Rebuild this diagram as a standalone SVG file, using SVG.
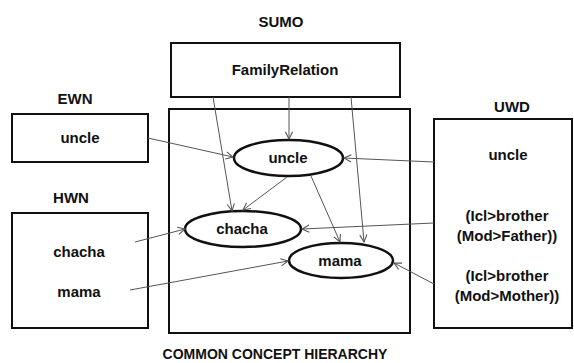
<svg xmlns="http://www.w3.org/2000/svg" width="574" height="363" viewBox="0 0 574 363">
<defs>
<style>
text{font-family:"Liberation Sans",Arial,sans-serif;font-weight:bold;font-size:15px;fill:#111;text-anchor:middle}
.box{fill:#fff;stroke:#111;stroke-width:2}
.ell{fill:#fff;stroke:#111;stroke-width:2.5}
.edge{fill:none;stroke:#555;stroke-width:1;marker-end:url(#arr)}
</style>
<marker id="arr" viewBox="0 0 10 10" refX="9" refY="5" markerWidth="9" markerHeight="9" markerUnits="userSpaceOnUse" orient="auto">
<path d="M1,1 L9,5 L1,9" fill="none" stroke="#555" stroke-width="1.2"/>
</marker>
</defs>
<rect width="574" height="363" fill="#fff"/>
<g id="common">
<rect class="box" x="169" y="109" width="241" height="224"/>
<text x="275" y="359" style="font-size:14px">COMMON CONCEPT HIERARCHY</text>
</g>
<g id="sumo">
<text x="281" y="27">SUMO</text>
<rect class="box" x="171" y="43" width="229" height="54"/>
<text x="285" y="75">FamilyRelation</text>
</g>
<g id="ewn">
<text x="75" y="104">EWN</text>
<rect class="box" x="12" y="114" width="136" height="48"/>
<text x="80" y="143">uncle</text>
</g>
<g id="hwn">
<text x="71" y="203">HWN</text>
<rect class="box" x="12" y="213" width="136" height="115"/>
<text x="79" y="257">chacha</text>
<text x="79" y="297">mama</text>
</g>
<g id="uwd">
<text x="512" y="112">UWD</text>
<rect class="box" x="434" y="119" width="138" height="209"/>
<text x="508" y="160">uncle</text>
<text x="507" y="221">(Icl&gt;brother</text>
<text x="507" y="241">(Mod&gt;Father))</text>
<text x="507" y="281">(Icl&gt;brother</text>
<text x="507" y="301">(Mod&gt;Mother))</text>
</g>
<g id="uncle-node">
<ellipse class="ell" cx="288.5" cy="158" rx="54.5" ry="18"/>
<text x="288" y="163">uncle</text>
</g>
<g id="chacha-node">
<ellipse class="ell" cx="243" cy="229" rx="58" ry="18"/>
<text x="242" y="234">chacha</text>
</g>
<g id="mama-node">
<ellipse class="ell" cx="341" cy="260.5" rx="52" ry="17.5"/>
<text x="340" y="266">mama</text>
</g>
<g id="connectors">
<line class="edge" x1="148" y1="138" x2="233" y2="157"/>
<line class="edge" x1="289" y1="97" x2="289" y2="139"/>
<line class="edge" x1="213" y1="97" x2="232" y2="211"/>
<line class="edge" x1="351" y1="97" x2="364" y2="242"/>
<line class="edge" x1="434" y1="162" x2="344" y2="158"/>
<line class="edge" x1="287" y1="177" x2="243" y2="210"/>
<line class="edge" x1="311" y1="176" x2="340" y2="242"/>
<line class="edge" x1="135" y1="242" x2="185" y2="229"/>
<line class="edge" x1="130" y1="290" x2="288" y2="261"/>
<line class="edge" x1="434" y1="223" x2="302" y2="229"/>
<line class="edge" x1="434" y1="284" x2="394" y2="263"/>
</g>
</svg>
